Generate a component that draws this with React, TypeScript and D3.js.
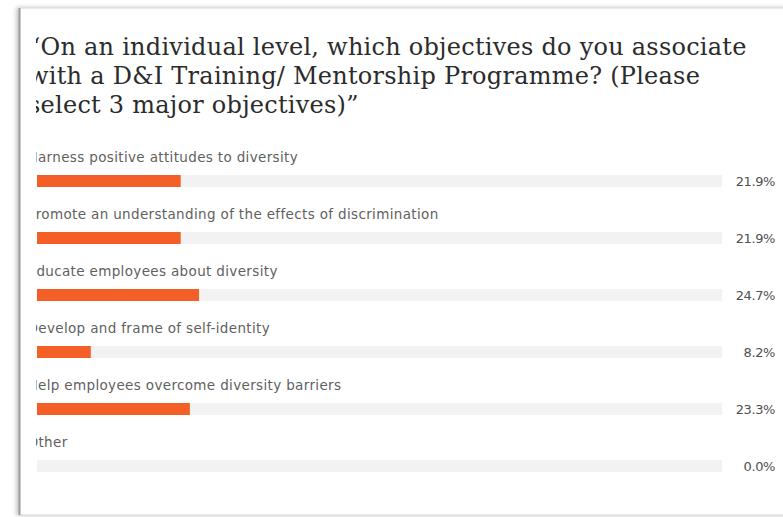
import React from "react";
import * as d3 from "d3";

// survey answers, in the order shown
const categories = [
  "Harness positive attitudes to diversity",
  "Promote an understanding of the effects of discrimination",
  "Educate employees about diversity",
  "Develop and frame of self-identity",
  "Help employees overcome diversity barriers",
  "Other",
];
const shares = [21.9, 21.9, 24.7, 8.2, 23.3, 0.0];
const titleLines = [
  "\u201COn an individual level, which objectives do you associate",
  "with a D&I Training/ Mentorship Programme? (Please",
  "select 3 major objectives)\u201D",
];

const W = 783;
const H = 517;
const ORANGE = "#f35f27";
const TRACK = "#f2f2f2";

export default function App() {
  const x = d3.scaleLinear().domain([0, 104.4]).range([37, 722]);
  const y = d3.scaleBand<string>().domain(categories).range([150, 150 + 57 * categories.length]);
  const barH = 12;

  return (
    <svg
      width={W}
      height={H}
      style={{ position: "fixed", left: 0, top: 0, background: "#fff" }}
    >
      <defs>
        <clipPath id="inner">
          <rect x={36} y={0} width={W} height={H} />
        </clipPath>
        <filter id="shadow" x="-5%" y="-5%" width="110%" height="110%">
          <feDropShadow dx={-2} dy={0} stdDeviation={2} floodColor="#000" floodOpacity={0.25} />
        </filter>
      </defs>

      {/* card */}
      <rect x={19} y={8} width={W} height={507} fill="#fff" stroke="#d4d4d4" strokeWidth={1} filter="url(#shadow)" />
      <line x1={19.5} x2={19.5} y1={8} y2={515} stroke="#9a9a9a" strokeWidth={2} />

      <g clipPath="url(#inner)">
        {titleLines.map((t, i) => (
          <text
            key={i}
            x={28}
            y={55 + i * 29}
            fontFamily="'DejaVu Serif', serif"
            fontSize={24}
            fill="#2b2b2b"
            letterSpacing={0.25}
          >
            {t}
          </text>
        ))}

        {categories.map((c, i) => {
          const y0 = y(c)!;
          return (
            <g key={c}>
              <text
                x={27.5}
                y={y0 + 12}
                fontFamily="'DejaVu Sans', sans-serif"
                fontSize={13.5}
                fill="#5f5f5f"
                letterSpacing={0.35}
              >
                {c}
              </text>
              <rect x={x(0)} y={y0 + 25} width={x.range()[1] - x(0)} height={barH} fill={TRACK} />
              <rect x={x(0)} y={y0 + 25} width={x(shares[i]) - x(0)} height={barH} fill={ORANGE} />
              <text
                x={775}
                y={y0 + 35.5}
                textAnchor="end"
                fontFamily="'DejaVu Sans', sans-serif"
                fontSize={13}
                fill="#505050"
                letterSpacing={-0.4}
              >
                {shares[i].toFixed(1)}%
              </text>
            </g>
          );
        })}
      </g>
    </svg>
  );
}
